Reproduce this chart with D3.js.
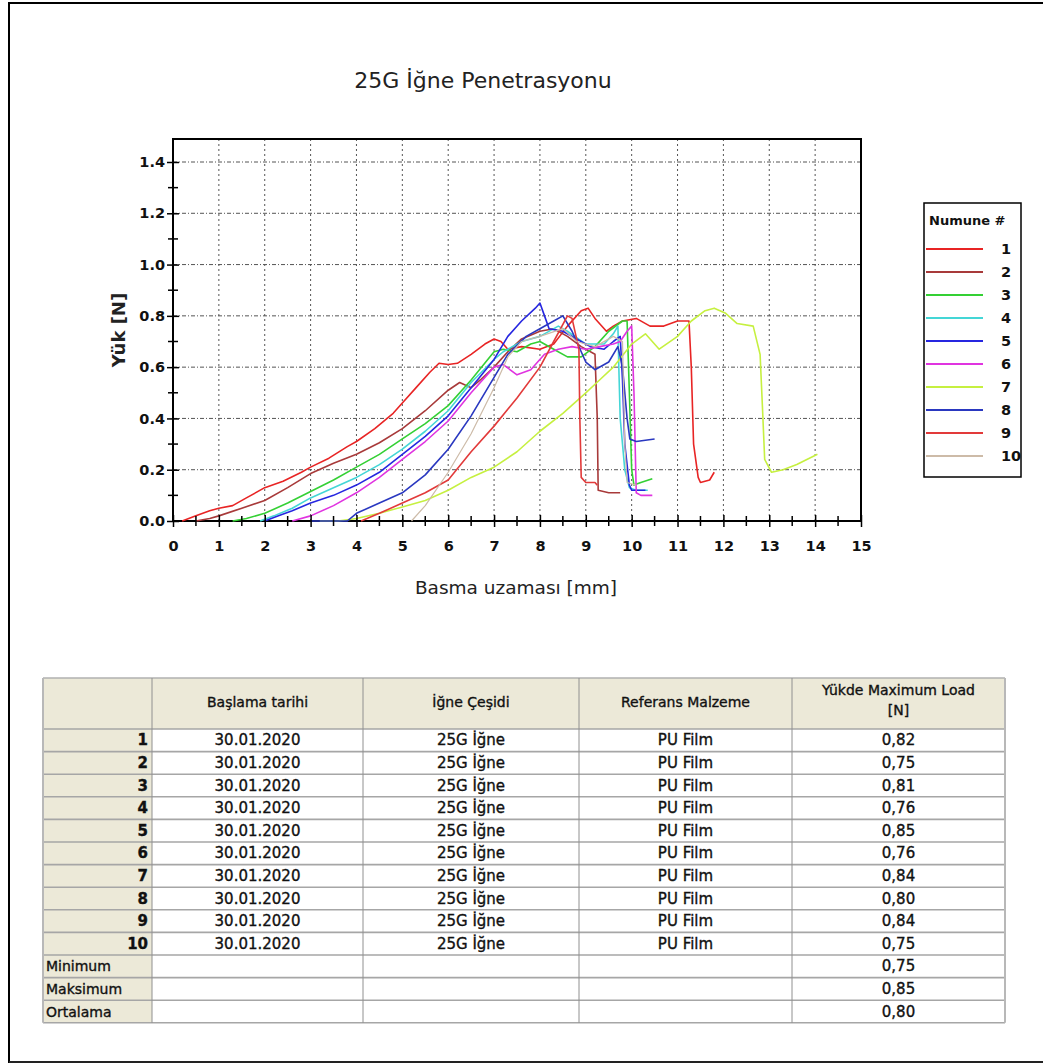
<!DOCTYPE html>
<html><head><meta charset="utf-8">
<script src="https://cdn.jsdelivr.net/npm/d3@7"></script>
<style>html,body{margin:0;padding:0;background:#fff;} svg{display:block;font-family:"DejaVu Sans",sans-serif;}</style>
</head><body>
<svg id="c" width="1043" height="1064"></svg>
<script>
// ---------- DATA ----------
const chartTitle = "25G İğne Penetrasyonu";
const xLabel = "Basma uzaması [mm]";
const yLabel = "Yük [N]";
const legendTitle = "Numune #";
const seriesNames = ["1","2","3","4","5","6","7","8","9","10"];
const seriesColors = ["#e82424","#a83a3a","#34d034","#44d6d6","#2626e0","#e034e0","#c6f040","#2a38c0","#e23a3a","#cdbba8"];
const xTicks = [0,1,2,3,4,5,6,7,8,9,10,11,12,13,14,15];
const yTicks = [0.0,0.2,0.4,0.6,0.8,1.0,1.2,1.4];

const s1 = [[0.2,0],[0.5,0.02],[0.8,0.04],[1.0,0.05],[1.3,0.06],[1.6,0.09],[2.0,0.13],[2.4,0.155],[2.8,0.19],[3.0,0.21],[3.4,0.245],[3.8,0.29],[4.0,0.31],[4.4,0.36],[4.8,0.42],[5.0,0.46],[5.3,0.52],[5.6,0.58],[5.8,0.615],[6.0,0.61],[6.2,0.615],[6.5,0.65],[6.8,0.69],[7.0,0.71],[7.15,0.70],[7.3,0.67],[7.6,0.68],[8.0,0.67],[8.3,0.69],[8.6,0.76],[8.9,0.82],[9.05,0.83],[9.2,0.79],[9.45,0.74],[9.6,0.76],[9.8,0.78],[10.1,0.79],[10.4,0.76],[10.7,0.76],[11.0,0.78],[11.25,0.78],[11.3,0.6],[11.35,0.3],[11.45,0.17],[11.5,0.15],[11.7,0.16],[11.8,0.19]];
const s2 = [[0.5,0],[0.8,0.01],[1.0,0.02],[1.5,0.05],[2.0,0.08],[2.5,0.13],[3.0,0.185],[3.5,0.225],[4.0,0.26],[4.5,0.305],[5.0,0.36],[5.5,0.43],[6.0,0.51],[6.25,0.54],[6.5,0.52],[6.7,0.55],[7.0,0.60],[7.3,0.66],[7.6,0.71],[8.0,0.74],[8.3,0.75],[8.6,0.72],[8.9,0.68],[9.2,0.65],[9.25,0.4],[9.27,0.12],[9.5,0.11],[9.75,0.11]];
const s3 = [[1.3,0],[1.6,0.01],[2.0,0.03],[2.5,0.07],[3.0,0.115],[3.5,0.16],[4.0,0.21],[4.5,0.26],[5.0,0.32],[5.5,0.38],[6.0,0.45],[6.5,0.55],[7.0,0.66],[7.2,0.67],[7.5,0.66],[7.8,0.69],[8.0,0.70],[8.3,0.67],[8.6,0.64],[8.9,0.64],[9.2,0.68],[9.5,0.74],[9.8,0.78],[9.9,0.78],[9.95,0.5],[10.0,0.2],[10.05,0.14],[10.2,0.15],[10.45,0.165]];
const s4 = [[1.9,0],[2.2,0.02],[2.6,0.05],[3.0,0.09],[3.5,0.13],[4.0,0.17],[4.5,0.22],[5.0,0.28],[5.5,0.35],[6.0,0.43],[6.5,0.54],[7.0,0.63],[7.2,0.66],[7.6,0.70],[8.0,0.72],[8.4,0.76],[8.6,0.74],[9.0,0.69],[9.4,0.69],[9.6,0.73],[9.7,0.76],[9.72,0.6],[9.75,0.4],[9.85,0.2],[9.95,0.13],[10.1,0.12],[10.35,0.12]];
const s5 = [[2.0,0],[2.3,0.02],[2.6,0.04],[3.0,0.07],[3.5,0.10],[4.0,0.14],[4.5,0.19],[5.0,0.26],[5.5,0.33],[6.0,0.41],[6.5,0.52],[7.0,0.63],[7.3,0.72],[7.6,0.78],[7.9,0.83],[8.0,0.85],[8.1,0.80],[8.2,0.75],[8.5,0.74],[8.8,0.71],[9.1,0.68],[9.4,0.67],[9.6,0.70],[9.75,0.72],[9.8,0.55],[9.85,0.3],[9.95,0.14],[10.0,0.12],[10.3,0.12]];
const s6 = [[2.6,0],[3.0,0.02],[3.5,0.06],[4.0,0.11],[4.5,0.17],[5.0,0.24],[5.5,0.31],[6.0,0.39],[6.5,0.50],[7.0,0.60],[7.2,0.61],[7.5,0.57],[7.8,0.59],[8.1,0.65],[8.4,0.67],[8.7,0.68],[9.0,0.67],[9.3,0.68],[9.6,0.69],[9.75,0.70],[9.9,0.74],[10.0,0.76],[10.05,0.5],[10.1,0.11],[10.2,0.10],[10.45,0.10]];
const s7 = [[3.2,0],[3.6,0],[4.0,0.01],[4.5,0.03],[5.0,0.055],[5.5,0.08],[6.0,0.12],[6.5,0.17],[7.0,0.21],[7.5,0.27],[8.0,0.35],[8.5,0.42],[9.0,0.50],[9.3,0.55],[9.6,0.60],[10.0,0.69],[10.3,0.73],[10.6,0.67],[11.0,0.72],[11.3,0.78],[11.6,0.82],[11.8,0.83],[12.05,0.81],[12.3,0.77],[12.65,0.76],[12.8,0.65],[12.85,0.45],[12.9,0.24],[13.05,0.19],[13.3,0.20],[13.6,0.22],[14.05,0.26]];
const s8 = [[3.0,0],[3.8,0],[4.0,0.03],[4.5,0.07],[5.0,0.11],[5.5,0.18],[6.0,0.28],[6.5,0.41],[7.0,0.56],[7.3,0.65],[7.7,0.72],[8.0,0.75],[8.3,0.78],[8.5,0.80],[8.7,0.74],[9.0,0.62],[9.2,0.59],[9.5,0.62],[9.7,0.68],[9.8,0.60],[9.9,0.40],[9.96,0.32],[10.1,0.31],[10.5,0.32]];
const s9 = [[4.1,0],[4.5,0.03],[5.0,0.07],[5.5,0.11],[6.0,0.16],[6.5,0.27],[7.0,0.37],[7.5,0.48],[8.0,0.60],[8.3,0.70],[8.6,0.80],[8.7,0.79],[8.85,0.67],[8.87,0.4],[8.9,0.17],[9.0,0.15],[9.2,0.15],[9.25,0.14]];
const s10 = [[5.2,0],[5.5,0.06],[6.0,0.19],[6.5,0.34],[7.0,0.52],[7.3,0.64],[7.6,0.70],[8.0,0.72],[8.5,0.75],[8.8,0.70],[9.2,0.68],[9.6,0.72],[9.8,0.70],[9.85,0.3],[9.9,0.15],[10.1,0.14]];
const allSeries = [s1,s2,s3,s4,s5,s6,s7,s8,s9,s10];

// table
const tableHeaders = ["", "Başlama tarihi", "İğne Çeşidi", "Referans Malzeme", "Yükde  Maximum Load|[N]"];
const rowLabels = ["1","2","3","4","5","6","7","8","9","10"];
const startDates = ["30.01.2020","30.01.2020","30.01.2020","30.01.2020","30.01.2020","30.01.2020","30.01.2020","30.01.2020","30.01.2020","30.01.2020"];
const needleTypes = ["25G İğne","25G İğne","25G İğne","25G İğne","25G İğne","25G İğne","25G İğne","25G İğne","25G İğne","25G İğne"];
const materials = ["PU Film","PU Film","PU Film","PU Film","PU Film","PU Film","PU Film","PU Film","PU Film","PU Film"];
const maxLoads = ["0,82","0,75","0,81","0,76","0,85","0,76","0,84","0,80","0,84","0,75"];
const statLabels = ["Minimum","Maksimum","Ortalama"];
const statValues = ["0,75","0,85","0,80"];

// ---------- DRAW ----------
const svg = d3.select("#c");
// outer frame
svg.append("path").attr("d","M9,1063 L9,3 L1043,3").attr("fill","none").attr("stroke","#000").attr("stroke-width",2);
svg.append("line").attr("x1",9).attr("x2",1043).attr("y1",1062).attr("y2",1062).attr("stroke","#222").attr("stroke-width",2);

const x = d3.scaleLinear().domain([0,15]).range([173,861]);
const y = d3.scaleLinear().domain([0,1.4]).range([521,162]);
const plotTop = 139;

svg.append("text").attr("x",483).attr("y",88).attr("text-anchor","middle").attr("font-size",22).attr("fill","#222").text(chartTitle);

// grid
const g = svg.append("g");
g.selectAll(".gx").data(xTicks.slice(1,-1)).join("line")
  .attr("x1",d=>x(d)).attr("x2",d=>x(d)).attr("y1",plotTop).attr("y2",y(0))
  .attr("stroke","#555").attr("stroke-width",1).attr("stroke-dasharray","2,3");
g.selectAll(".gy").data(yTicks.slice(1)).join("line")
  .attr("x1",x(0)).attr("x2",x(15)).attr("y1",d=>y(d)).attr("y2",d=>y(d))
  .attr("stroke","#555").attr("stroke-width",1).attr("stroke-dasharray","4,2,1,2");

// frame
svg.append("rect").attr("x",x(0)).attr("y",plotTop).attr("width",x(15)-x(0)).attr("height",y(0)-plotTop)
  .attr("fill","none").attr("stroke","#000").attr("stroke-width",2);

// lines
const line = d3.line().x(d=>x(d[0])).y(d=>y(d[1]));
svg.append("g").selectAll("path").data(allSeries).join("path")
  .attr("d",line).attr("fill","none")
  .attr("stroke",(d,i)=>seriesColors[i]).attr("stroke-width",(d,i)=> i===9?1.2:1.6).attr("stroke-linejoin","round");

// axes
const xAxis = d3.axisBottom(x).tickValues(xTicks).tickFormat(d3.format("d")).tickSize(6).tickPadding(14);
const gxA = svg.append("g").attr("transform",`translate(0,${y(0)})`).call(xAxis);
const yAxis = d3.axisLeft(y).tickValues(yTicks).tickFormat(d3.format(".1f")).tickSize(6).tickPadding(2);
const gyA = svg.append("g").attr("transform",`translate(${x(0)},0)`).call(yAxis);
[gxA,gyA].forEach(a=>{
  a.select(".domain").remove();
  a.selectAll(".tick line").attr("stroke","#000").attr("stroke-width",1.5);
  a.selectAll(".tick text").attr("font-size",14.5).attr("font-weight","bold").attr("fill","#111").attr("font-family","DejaVu Sans");
});
gxA.selectAll(".tick line").attr("y1",-6).attr("y2",6);
gyA.selectAll(".tick line").attr("x1",6).attr("x2",-6);
// minor ticks
const xMinor = d3.range(0.5,15,1);
svg.append("g").selectAll("line").data(xMinor).join("line")
  .attr("x1",d=>x(d)).attr("x2",d=>x(d)).attr("y1",y(0)-5).attr("y2",y(0)+5).attr("stroke","#000").attr("stroke-width",1.5);
const yMinor = d3.range(0.1,1.45,0.2);
svg.append("g").selectAll("line").data(yMinor).join("line")
  .attr("x1",x(0)-5).attr("x2",x(0)+5).attr("y1",d=>y(d)).attr("y2",d=>y(d)).attr("stroke","#000").attr("stroke-width",1.5);

// axis labels
svg.append("text").attr("x",516).attr("y",594).attr("text-anchor","middle").attr("font-size",18.5).attr("fill","#222").text(xLabel);
svg.append("text").attr("transform","translate(125,330) rotate(-90)").attr("text-anchor","middle").attr("font-size",18).attr("font-weight","bold").attr("fill","#222").text(yLabel);

// legend
const lg = svg.append("g");
lg.append("rect").attr("x",924).attr("y",203).attr("width",97).attr("height",274).attr("fill","#fff").attr("stroke","#000").attr("stroke-width",1.5);
lg.append("text").attr("x",929).attr("y",225).attr("font-size",13).attr("font-weight","bold").attr("fill","#111").text(legendTitle);
const items = lg.selectAll(".it").data(seriesNames).join("g").attr("transform",(d,i)=>`translate(0,${249+i*23})`);
items.append("line").attr("x1",926).attr("x2",983).attr("y1",0).attr("y2",0).attr("stroke",(d,i)=>seriesColors[i]).attr("stroke-width",2);
items.append("text").attr("x",1001).attr("y",5).attr("font-size",14.5).attr("font-weight","bold").attr("fill","#111").text(d=>d);

// table
const colX = [43,152,363,579,792,1005];
const headTop = 678, headH = 51, rowH = 22.6;
const tg = svg.append("g").attr("font-size",14).attr("fill","#111").attr("stroke","#111").attr("stroke-width",0.35);
const rows = rowLabels.map((r,i)=>[r,startDates[i],needleTypes[i],materials[i],maxLoads[i]])
  .concat(statLabels.map((s,i)=>[s,"","","",statValues[i]]));
const nRows = rows.length;
const tableBottom = headTop+headH+nRows*rowH;
// backgrounds
tg.append("rect").attr("x",colX[0]).attr("y",headTop).attr("width",colX[5]-colX[0]).attr("height",headH).attr("fill","#ece9d8").attr("stroke","none");
tg.append("rect").attr("x",colX[0]).attr("y",headTop+headH).attr("width",colX[1]-colX[0]).attr("height",nRows*rowH).attr("fill","#ece9d8").attr("stroke","none");
// grid lines
tg.selectAll(".hl").data(d3.range(nRows+1)).join("line")
  .attr("x1",colX[0]).attr("x2",colX[5]).attr("y1",i=>headTop+headH+i*rowH).attr("y2",i=>headTop+headH+i*rowH)
  .attr("stroke","#a6a6a6").attr("stroke-width",1.6);
tg.append("line").attr("x1",colX[0]).attr("x2",colX[5]).attr("y1",headTop).attr("y2",headTop).attr("stroke","#b0b0b0").attr("stroke-width",1.6);
tg.selectAll(".vl").data(colX).join("line")
  .attr("x1",d=>d).attr("x2",d=>d).attr("y1",headTop).attr("y2",tableBottom)
  .attr("stroke",(d,i)=> (i===0||i===5)?"#b8b8b8":"#909090").attr("stroke-width",(d,i)=>(i===0||i===5)?2:1);
// header text
tableHeaders.forEach((h,i)=>{
  if(!h) return;
  const cx = (colX[i]+colX[i+1])/2;
  const parts = h.split("|");
  if(parts.length===1){
    tg.append("text").attr("x",cx).attr("y",headTop+29).attr("text-anchor","middle").text(parts[0]);
  } else {
    tg.append("text").attr("x",cx).attr("y",headTop+17).attr("text-anchor","middle").text(parts[0]);
    tg.append("text").attr("x",cx).attr("y",headTop+37).attr("text-anchor","middle").text(parts[1]);
  }
});
// body text
rows.forEach((r,ri)=>{
  const cy = headTop+headH+ri*rowH+rowH/2+5;
  r.forEach((v,ci)=>{
    if(!v) return;
    if(ci===0){
      const isStat = ri>=rowLabels.length;
      tg.append("text").attr("x",isStat?colX[0]+3:colX[1]-4).attr("y",cy)
        .attr("text-anchor",isStat?"start":"end").attr("font-weight",isStat?"normal":"bold").attr("font-size",isStat?14:15).text(v);
    } else {
      tg.append("text").attr("x",(colX[ci]+colX[ci+1])/2).attr("y",cy).attr("text-anchor","middle").attr("font-size",15).text(v);
    }
  });
});
</script>
</body></html>
